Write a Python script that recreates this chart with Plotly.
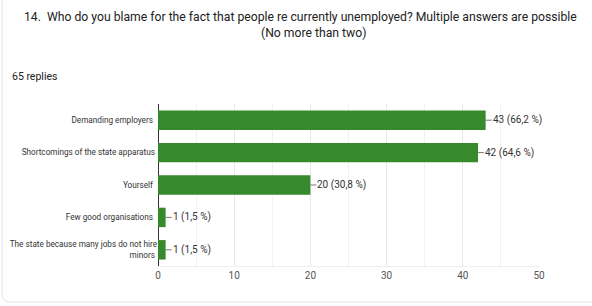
import plotly.graph_objects as go

categories = ["Demanding employers ", "Shortcomings of the state apparatus", "Yourself ",
              "Few good organisations ", "The state because many jobs do not hire<br>minors"]
counts = [43, 42, 20, 1, 1]
percents = ["66,2", "64,6", "30,8", "1,5", "1,5"]
x_ticks = [0, 10, 20, 30, 40, 50]

BAR = "#378a2c"
FONT = "Roboto, Arial, sans-serif"

W, H = 592, 306
L, R, T, B = 158, 539, 104, 266  # plot area in pixels


def px(x):
    return (x - L) / (R - L)


def py(y):
    return (B - y) / (B - T)


fig = go.Figure()
fig.add_trace(go.Bar(
    x=counts, y=categories, orientation="h",
    marker=dict(color=BAR, line=dict(width=0)),
    width=0.6, hoverinfo="skip",
))

for c, v, p in zip(categories, counts, percents):
    fig.add_annotation(
        x=v, y=c, xref="x", yref="y",
        text=f"{v} ({p} %)", showarrow=True, arrowhead=0, arrowwidth=1,
        arrowcolor="#777777", ax=6, ay=0, xanchor="left", borderpad=0,
        font=dict(family=FONT, size=10, color="#333333"), standoff=0,
    )

# title lines
fig.add_annotation(x=px(22), y=py(17), xref="paper", yref="paper", xanchor="left",
                   yanchor="middle", showarrow=False,
                   text="14.  Who do you blame for the fact that people re currently unemployed? Multiple answers are possible",
                   font=dict(family=FONT, size=12.2, color="#222222"))
fig.add_annotation(x=px(313), y=py(33), xref="paper", yref="paper", xanchor="center",
                   yanchor="middle", showarrow=False, text="(No more than two)",
                   font=dict(family=FONT, size=12.2, color="#222222"))
fig.add_annotation(x=px(10), y=py(77), xref="paper", yref="paper", xanchor="left",
                   yanchor="middle", showarrow=False, text="65 replies",
                   font=dict(family=FONT, size=10.5, color="#222222"))

# card border (left and bottom edges, rounded corner)
x0, y0, rad, xe, ye = px(2), py(302), 8, px(610), py(-10)
rx = rad / (R - L)
ry = rad / (B - T)
fig.add_shape(type="path", xref="paper", yref="paper",
              path=f"M {x0},{ye} L {x0},{y0 + ry} Q {x0},{y0} {x0 + rx},{y0} L {xe},{y0}",
              line=dict(color="#e4e4e4", width=1), layer="below")

fig.update_layout(
    width=W, height=H,
    margin=dict(l=L, r=W - R, t=T, b=H - B, autoexpand=False),
    paper_bgcolor="white", plot_bgcolor="white",
    showlegend=False,
    xaxis=dict(range=[0, 50], tickvals=x_ticks, showgrid=True, gridcolor="#e8e8e8",
               gridwidth=1, zeroline=True, zerolinecolor="#333333", zerolinewidth=1,
               minor=dict(dtick=5, showgrid=True, gridcolor="#f2f2f2"),
               tickfont=dict(family=FONT, size=10, color="#555555"), ticks="",
               showline=True, linecolor="#eeeeee", fixedrange=True, automargin=False),
    yaxis=dict(autorange="reversed", tickfont=dict(family=FONT, size=8.2, color="#333333"),
               ticks="", ticksuffix=" ", showgrid=False, fixedrange=True, automargin=False),
)

fig.write_html("out.html", config={"displayModeBar": False},
               post_script="document.body.style.margin='0';document.body.style.overflow='hidden';")
